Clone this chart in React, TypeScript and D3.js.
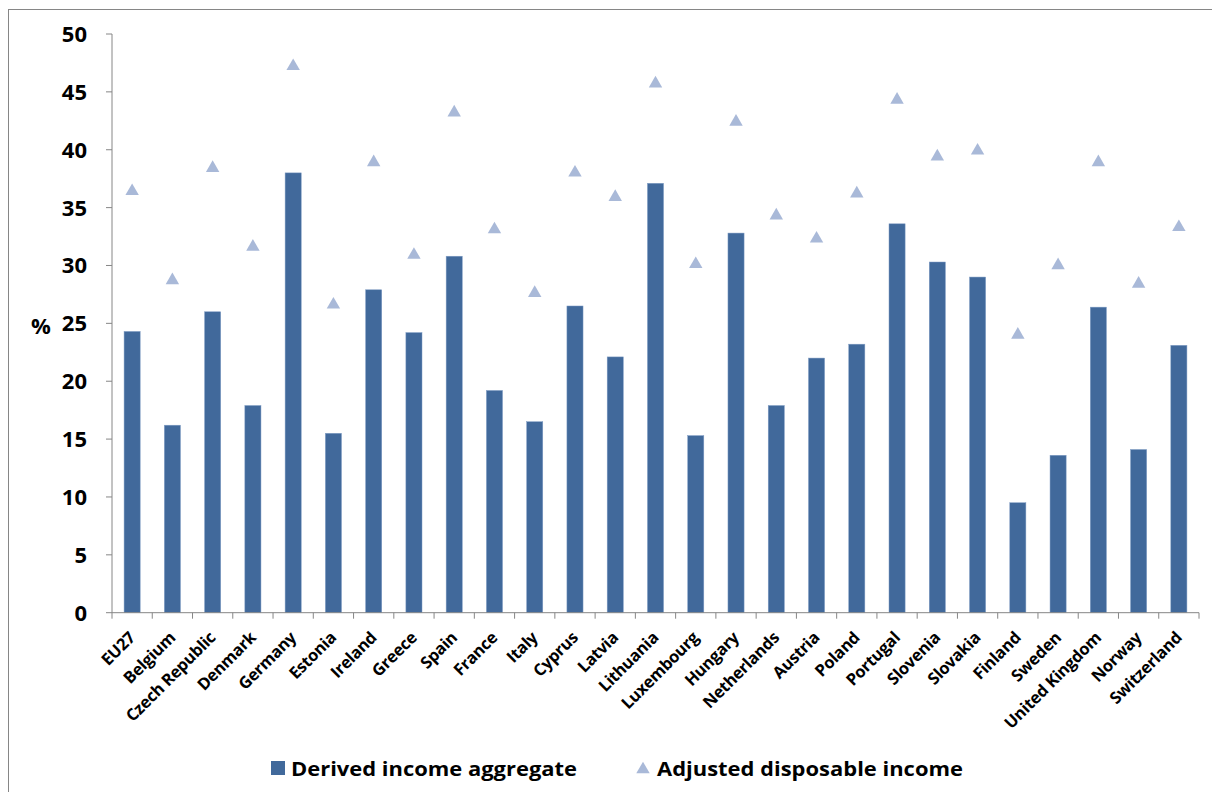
import React from "react";
import * as d3 from "d3";

const countries = [
  "EU27", "Belgium", "Czech Republic", "Denmark", "Germany", "Estonia", "Ireland",
  "Greece", "Spain", "France", "Italy", "Cyprus", "Latvia", "Lithuania", "Luxembourg",
  "Hungary", "Netherlands", "Austria", "Poland", "Portugal", "Slovenia", "Slovakia",
  "Finland", "Sweden", "United Kingdom", "Norway", "Switzerland",
];

const derivedIncome = [
  24.3, 16.2, 26.0, 17.9, 38.0, 15.5, 27.9, 24.2, 30.8, 19.2, 16.5, 26.5, 22.1, 37.1,
  15.3, 32.8, 17.9, 22.0, 23.2, 33.6, 30.3, 29.0, 9.5, 13.6, 26.4, 14.1, 23.1,
];

const adjustedDisposable = [
  36.5, 28.8, 38.5, 31.7, 47.3, 26.7, 39.0, 31.0, 43.3, 33.2, 27.7, 38.1, 36.0, 45.8,
  30.2, 42.5, 34.4, 32.4, 36.3, 44.4, 39.5, 40.0, 24.1, 30.1, 39.0, 28.5, 33.4,
];

const yTicks = [0, 5, 10, 15, 20, 25, 30, 35, 40, 45, 50];

const seriesNames = ["Derived income aggregate", "Adjusted disposable income"];

const W = 1212;
const H = 792;
const BAR = "#41699b";
const TRI = "#a9b9d8";
const AXIS = "#868686";
const FONT = "'Open Sans', 'Noto Sans', sans-serif";

const left = 112;
const right = 1199;
const top = 34;
const bottom = 612.7;

export default function App() {
  const x = d3.scaleBand<string>().domain(countries).range([left, right]).padding(0);
  const y = d3.scaleLinear().domain([0, 50]).range([bottom, top]);
  const barW = x.bandwidth() * 0.4;
  const tri = d3.symbol().type(d3.symbolTriangle).size(78)();

  return (
    <svg
      width={W}
      height={H}
      style={{ position: "absolute", left: 0, top: 0, background: "#fff" }}
      fontFamily={FONT}
    >
      {/* chart frame */}
      <rect x={8.5} y={9.5} width={W + 20} height={H + 20} fill="none" stroke={AXIS} strokeWidth={1} />

      {/* bars */}
      {countries.map((c, i) => (
        <rect
          key={"b" + c}
          x={(x(c) as number) + x.bandwidth() / 2 - barW / 2}
          y={y(derivedIncome[i])}
          width={barW}
          height={y(0) - y(derivedIncome[i])}
          fill={BAR}
          stroke="#7f9cc4"
          strokeWidth={0.5}
        />
      ))}

      {/* triangle markers */}
      {countries.map((c, i) => (
        <path
          key={"t" + c}
          d={tri as string}
          transform={`translate(${(x(c) as number) + x.bandwidth() / 2},${y(adjustedDisposable[i]) + 1})`}
          fill={TRI}
        />
      ))}

      {/* y axis */}
      <line x1={left} x2={left} y1={top} y2={bottom} stroke={AXIS} strokeWidth={1} />
      {yTicks.map((t) => (
        <g key={"y" + t}>
          <line x1={left - 6} x2={left} y1={y(t)} y2={y(t)} stroke={AXIS} strokeWidth={1} />
          <text
            x={87}
            y={y(t)}
            dy="0.36em"
            textAnchor="end"
            fontSize={22}
            fontWeight="bold"
            fill="#000"
          >
            {t}
          </text>
        </g>
      ))}
      <text x={31} y={334} fontSize={22} fontWeight="bold" fill="#000">%</text>

      {/* x axis */}
      <line x1={left} x2={right} y1={bottom} y2={bottom} stroke={AXIS} strokeWidth={1} />
      {countries.map((c) => (
        <line
          key={"xt" + c}
          x1={(x(c) as number)}
          x2={(x(c) as number)}
          y1={bottom}
          y2={bottom + 6}
          stroke={AXIS}
          strokeWidth={1}
        />
      ))}
      <line x1={right} x2={right} y1={bottom} y2={bottom + 6} stroke={AXIS} strokeWidth={1} />
      {countries.map((c) => {
        const cx = (x(c) as number) + x.bandwidth() / 2 + 4;
        const cy = bottom + 26;
        return (
          <text
            key={"xl" + c}
            transform={`translate(${cx},${cy}) rotate(-45)`}
            textAnchor="end"
            fontSize={16.5}
            fontWeight="bold"
            fill="#000"
            letterSpacing={-0.3}
          >
            {c}
          </text>
        );
      })}

      {/* legend */}
      <rect x={271} y={761} width={14} height={14} fill={BAR} />
      <text x={291} y={776} fontSize={20} fontWeight="bold" fill="#000" textLength={286} lengthAdjust="spacingAndGlyphs">
        {seriesNames[0]}
      </text>
      <path d={tri as string} transform="translate(643,769.5)" fill={TRI} />
      <text x={657} y={776} fontSize={20} fontWeight="bold" fill="#000" textLength={306} lengthAdjust="spacingAndGlyphs">
        {seriesNames[1]}
      </text>
    </svg>
  );
}
